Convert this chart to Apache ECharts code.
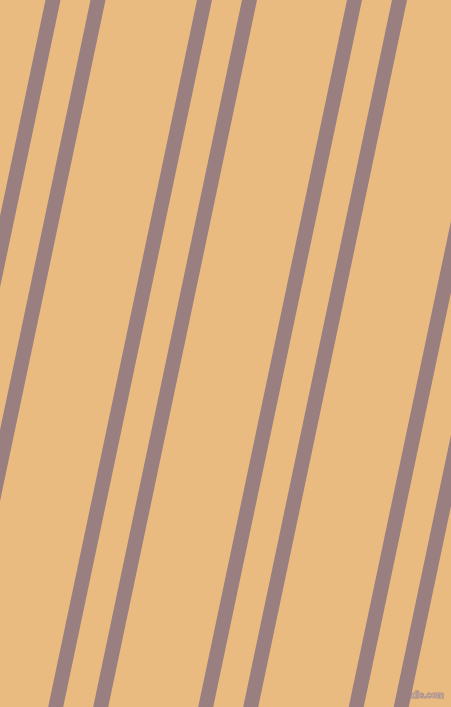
<!DOCTYPE html>
<html>
<head>
<meta charset="utf-8">
<style>
html,body{margin:0;padding:0;background:#EABB81;}
#c{width:451px;height:707px;}
</style>
<script src="https://cdn.jsdelivr.net/npm/echarts@6/dist/echarts.min.js"></script>
</head>
<body>
<div id="c"></div>
<script>
// Stripe centre x positions read at the top edge (y = 0) and bottom edge (y = 707)
const stripeTopX = [53, 98, 204.5, 249.5, 354.5, 399.5, 505, 550];
const stripeBottomX = [-95.8, -50.8, 55.7, 100.7, 205.7, 250.7, 356.2, 401.2];
const stripeNames = ['s1', 's2', 's3', 's4', 's5', 's6', 's7', 's8'];

const W = 451, H = 707, EXT = 30;
const chart = echarts.init(document.getElementById('c'), null, {renderer: 'canvas', width: W, height: H});

function ends(t, b) {
  const k = (b - t) / H;
  return [[t + k * (-EXT), -EXT], [t + k * (H + EXT), H + EXT]];
}

const series = stripeNames.map((n, i) => ({
  name: n,
  type: 'line',
  data: ends(stripeTopX[i], stripeBottomX[i]),
  symbol: 'none',
  silent: true,
  clip: true,
  lineStyle: {width: 14.7, color: '#9A7F80', cap: 'butt'}
}));

chart.setOption({
  animation: false,
  backgroundColor: '#EABB81',
  grid: {left: 0, right: 0, top: 0, bottom: 0},
  xAxis: {type: 'value', min: 0, max: W, show: false},
  yAxis: {type: 'value', min: 0, max: H, inverse: true, show: false},
  series: series,
  graphic: [{
    type: 'text',
    left: 402,
    top: 691,
    style: {
      text: 'pixlis.com',
      font: 'bold 8.5px "Liberation Sans"',
      fill: '#c6a8a3',
      stroke: '#968080',
      lineWidth: 0.8
    }
  }]
});
</script>
</body>
</html>
